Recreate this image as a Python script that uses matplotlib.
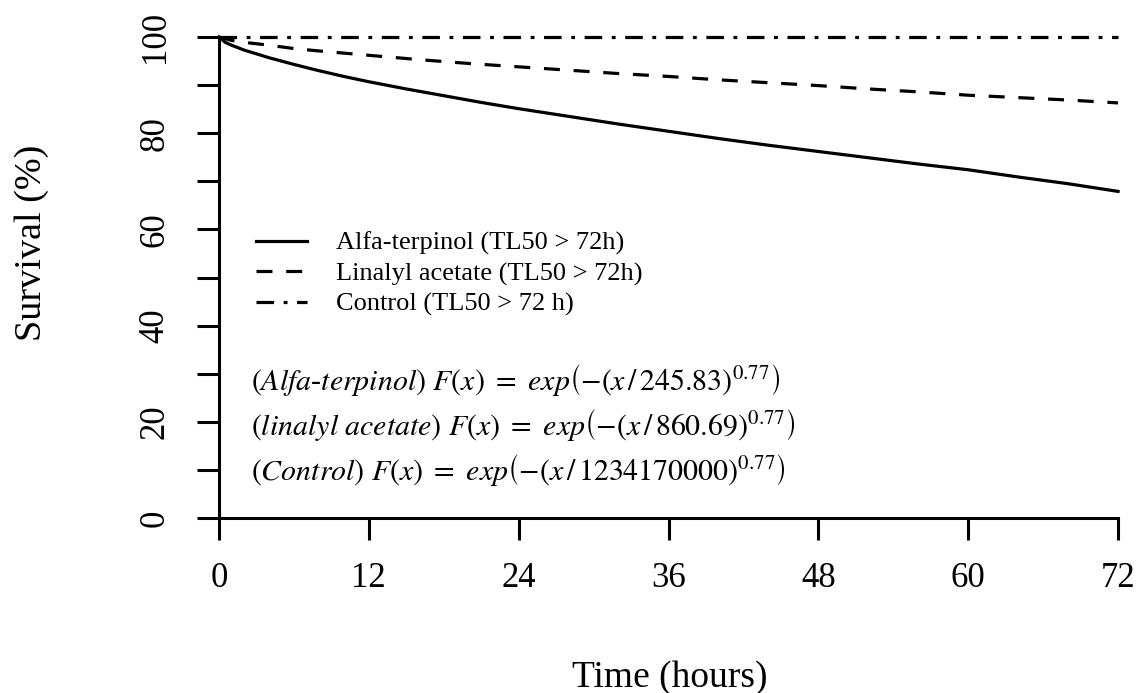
import matplotlib
matplotlib.use("Agg")
import matplotlib.pyplot as plt
from matplotlib.lines import Line2D

plt.rcParams['font.family'] = ['Liberation Serif', 'DejaVu Serif']
plt.rcParams['mathtext.fontset'] = 'stix'

# Data
t_alfa = [0, 0.5, 1, 2, 3, 4, 6, 8, 10, 12, 15, 18, 21, 24, 28, 32, 36, 40, 44, 48, 52, 56, 60, 64, 68, 72]
s_alfa = [100, 98.9, 98.3, 97.3, 96.5, 95.7, 94.3, 93.0, 91.8, 90.7, 89.2, 87.8, 86.4, 85.1, 83.5, 81.9,
          80.4, 78.9, 77.5, 76.2, 74.9, 73.6, 72.4, 70.9, 69.5, 67.9]
t_lin = [0, 1, 2, 4, 6, 8, 12, 16, 20, 24, 28, 32, 36, 40, 44, 48, 52, 56, 60, 64, 68, 72]
s_lin = [100, 99.3, 98.9, 98.3, 97.6, 97.1, 96.2, 95.3, 94.5, 93.8, 93.1, 92.4, 91.8, 91.1, 90.5,
         89.9, 89.2, 88.6, 87.9, 87.4, 86.9, 86.3]
t_ctrl = [0, 72]
s_ctrl = [100, 100]

labels = ["Alfa-terpinol (TL50 > 72h)", "Linalyl acetate (TL50 > 72h)", "Control (TL50 > 72 h)"]
equations = [
    r"$(Alfa$-$terpinol)\ F(x)\ =\ exp\left(-\left(\mathit{x}\,/\,245.83\right)^{0.77}\right)$",
    r"$(linalyl\ acetate)\ F(x)\ =\ exp\left(-\left(\mathit{x}\,/\,860.69\right)^{0.77}\right)$",
    r"$(Control)\ F(x)\ =\ exp\left(-\left(\mathit{x}\,/\,1234170000\right)^{0.77}\right)$",
]
xticks = [0, 12, 24, 36, 48, 60, 72]
yticks_major = [0, 20, 40, 60, 80, 100]
yticks_minor = [10, 30, 50, 70, 90]

fig = plt.figure(figsize=(11.41, 6.93), dpi=100)
ax = fig.add_axes([0.1919, 0.2525, 0.788, 0.6941])

lw = 2.3
l1, = ax.plot(t_alfa, s_alfa, color='black', lw=lw, clip_on=False)
l2, = ax.plot(t_lin, s_lin, color='black', lw=lw, clip_on=False, dashes=(5, 4.3), dash_capstyle='butt')
l3, = ax.plot(t_ctrl, s_ctrl, color='black', lw=lw, clip_on=False, dashes=(5.5, 3, 1.2, 3), dash_capstyle='butt')

ax.set_xlim(0, 72)
ax.set_ylim(0, 100)
for s in ['top', 'right']:
    ax.spines[s].set_visible(False)
for s in ['left', 'bottom']:
    ax.spines[s].set_linewidth(2.2)
ax.set_xticks(xticks)
ax.set_xticklabels([str(v) for v in xticks], fontsize=25)
ax.set_yticks(yticks_major)
ax.set_yticklabels([str(v) for v in yticks_major], fontsize=25, rotation=90, va='center')
ax.set_yticks(yticks_minor, minor=True)
ax.tick_params(axis='both', which='both', direction='out', length=16, width=2.2, color='black')
ax.tick_params(axis='x', pad=16)
ax.tick_params(axis='y', pad=18)

fig.text(0.587, 0.022, "Time (hours)", fontsize=27, ha='center', va='center')
fig.text(0.028, 0.65, "Survival (%)", fontsize=27.5, ha='center', va='center', rotation=90)

ax.legend([l1, l2, l3], labels, loc='upper left', bbox_to_anchor=(0.03, 0.618), frameon=False,
          fontsize=19, handlelength=1.9, handletextpad=1.1, labelspacing=0.25, borderaxespad=0)

ypos = [0.287, 0.193, 0.10]
for e, y in zip(equations, ypos):
    ax.text(0.036, y, e, transform=ax.transAxes, fontsize=21.5, ha='left', va='center')

fig.savefig("out.png", dpi=100)
